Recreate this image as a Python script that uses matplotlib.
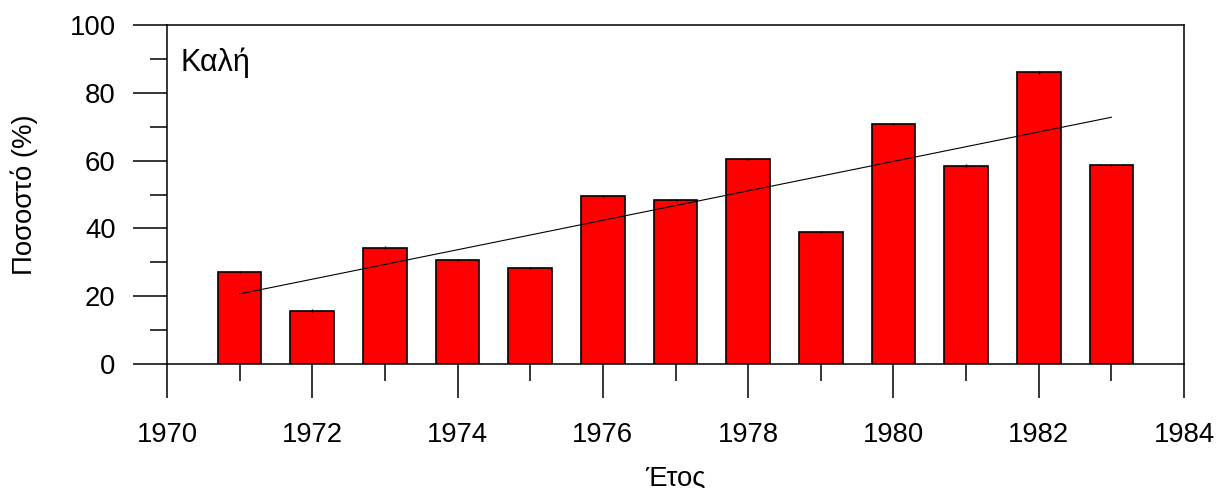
import numpy as np
import matplotlib
matplotlib.use("Agg")
import matplotlib.pyplot as plt
from matplotlib.ticker import MultipleLocator

plt.rcParams['font.family'] = ['Liberation Sans', 'DejaVu Sans']

years = [1971, 1972, 1973, 1974, 1975, 1976, 1977, 1978, 1979, 1980, 1981, 1982, 1983]
percent = [27.1, 15.7, 34.3, 30.7, 28.3, 49.6, 48.4, 60.5, 38.9, 70.8, 58.5, 86.0, 58.7]
errors = [0.4] * len(years)
x_major_ticks = [1970, 1972, 1974, 1976, 1978, 1980, 1982, 1984]
y_major_ticks = [0, 20, 40, 60, 80, 100]

fig = plt.figure(figsize=(12.17, 4.88), dpi=100)
ax = fig.add_axes([167 / 1217, 1 - 364 / 488, (1184 - 167) / 1217, (364 - 25) / 488])

ax.bar(years, percent, width=0.6, color='#ff0000', edgecolor='black',
       linewidth=1.2, zorder=2)
ax.errorbar(years, percent, yerr=errors, fmt='none', ecolor='black',
            elinewidth=1.0, capsize=0, zorder=3)

# least-squares trend across the bar values
slope, intercept = np.polyfit(years, percent, 1)
xs = np.array([years[0], years[-1]])
ax.plot(xs, slope * xs + intercept, color='black', linewidth=0.8, zorder=4)

ax.set_xlim(1970, 1984)
ax.set_ylim(0, 100)
ax.set_xticks(x_major_ticks)
ax.xaxis.set_minor_locator(MultipleLocator(1))
ax.set_yticks(y_major_ticks)
ax.yaxis.set_minor_locator(MultipleLocator(10))

for s in ax.spines.values():
    s.set_linewidth(1.1)

ax.tick_params(axis='both', which='major', direction='out', length=24.5,
               width=1.1, labelsize=19.8)
ax.tick_params(axis='both', which='minor', direction='out', length=12.3,
               width=1.1)
ax.tick_params(axis='x', which='major', pad=17)
ax.tick_params(axis='y', which='major', pad=12.5)

ax.set_xlabel('Έτος', fontsize=19.8, labelpad=13)
ax.set_ylabel('Ποσοστό (%)', fontsize=19.8, labelpad=23)

ax.text(0.013, 0.89, 'Καλή', transform=ax.transAxes, fontsize=22,
        ha='left', va='center')

fig.savefig('out.png', dpi=100)
